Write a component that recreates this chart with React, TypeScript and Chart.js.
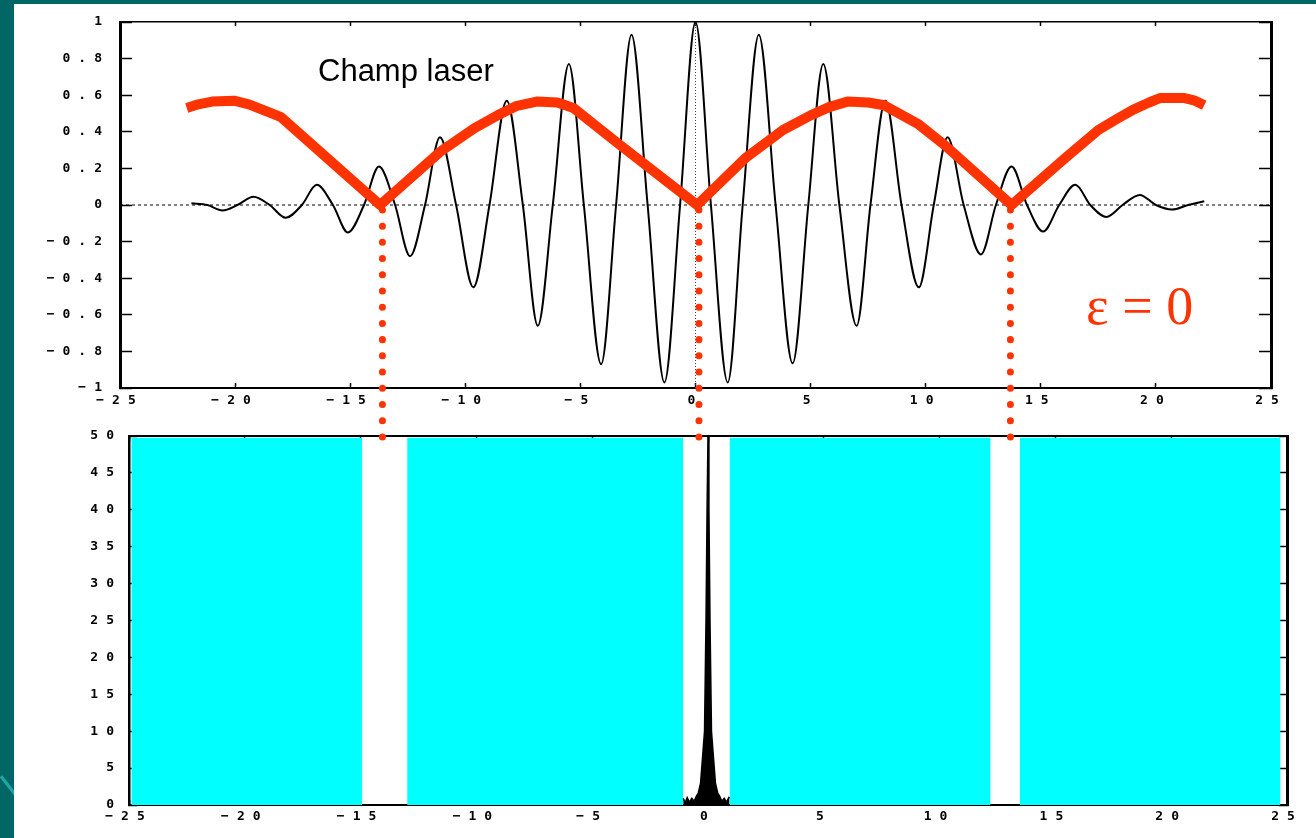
import React, { useEffect, useRef } from 'react';
import { Chart, registerables } from 'chart.js';

Chart.register(...registerables);

// ---------- Top chart data (laser field) ----------
const waveX = [
  -21.9, -21.2, -20.55, -19.9, -19.2, -18.5, -17.8, -17.1, -16.45, -15.75, -15.1, -14.4,
  -13.75, -13.05, -12.4, -11.75, -11.1, -10.4, -9.65, -8.95, -8.2, -7.5, -6.85, -6.2,
  -5.5, -4.85, -4.1, -3.45, -2.78, -2.08, -1.35, -0.67, 0, 0.67, 1.4, 2.05, 2.75, 3.48,
  4.22, 4.9, 5.55, 6.25, 7.0, 7.6, 8.25, 8.95, 9.7, 10.35, 10.95, 11.65, 12.4, 13.05,
  13.73, 14.4, 15.1, 15.8, 16.5, 17.15, 17.85, 18.55, 19.3, 20.0, 20.7, 21.4, 22.1,
];
const waveY = [
  0.01, 0, -0.03, 0, 0.045, 0, -0.07, 0, 0.11, 0, -0.15, 0,
  0.21, 0, -0.28, 0, 0.37, 0, -0.45, 0, 0.57, 0, -0.66, 0,
  0.77, 0, -0.87, 0, 0.93, 0, -0.97, 0, 1.0, 0, -0.97, 0, 0.93, 0,
  -0.865, 0, 0.77, 0, -0.66, 0, 0.57, 0, -0.45, 0, 0.37, 0, -0.27, 0,
  0.21, 0, -0.145, 0, 0.11, 0, -0.065, 0, 0.055, 0, -0.025, 0, 0.02,
];

const envX = [
  -22.1, -21.6, -21.0, -20.05, -19.4, -18.6, -18.0, -13.7, -11.1, -9.6, -8.6, -7.8, -6.9,
  -6.0, -5.3, -4.6, -3.3, 0.07, 2.2, 3.8, 5.0, 5.8, 6.6, 7.5, 8.2, 9.7, 10.8, 13.73,
  16.0, 17.5, 18.3, 19.0, 19.7, 20.2, 21.2, 21.7, 22.1,
];
const envY = [
  0.53, 0.55, 0.565, 0.57, 0.55, 0.51, 0.48, 0.0, 0.29, 0.42, 0.49, 0.54, 0.565,
  0.56, 0.53, 0.46, 0.33, 0.0, 0.26, 0.41, 0.49, 0.535, 0.565, 0.56, 0.545, 0.44, 0.33, 0.0,
  0.25, 0.41, 0.47, 0.52, 0.56, 0.585, 0.585, 0.57, 0.545,
];

// red dotted markers (x positions, y from / to)
const markerX = [-13.6, 0.15, 13.68];
const markerYFrom = -0.027;
const markerYTo = -1.272;

const topXTicks = { min: -25, max: 25, step: 5 };
const topYTicks = { min: -1, max: 1, step: 0.2 };

// ---------- Bottom chart data ----------
const cyanStart = [-24.9, -12.99, 0.93, 13.46];
const cyanEnd = [-14.93, -1.07, 12.2, 24.72];
const cyanTop = 49.75;

const spikeX = [
  -1.07, -0.98, -0.9, -0.8, -0.7, -0.6, -0.5, -0.42, -0.32, -0.15, -0.086, -0.04, 0,
  0.04, 0.086, 0.15, 0.32, 0.42, 0.5, 0.6, 0.7, 0.8, 0.9, 0.93,
];
const spikeY = [
  0.9, 0.3, 1.0, 0.4, 0.9, 0.5, 1.2, 1.6, 3, 10, 25, 40, 50,
  40, 25, 10, 3, 1.6, 1.2, 0.5, 0.9, 0.4, 1.0, 0.9,
];

const botXTicks = { min: -25, max: 25, step: 5 };
const botYTicks = { min: 0, max: 50, step: 5 };

// ---------- styles ----------
const RED = '#ff3300';
const CYAN = '#00ffff';
const TEAL = '#006666';
const tickFont = { family: '"DejaVu Sans Mono", monospace', size: 13, weight: 'bold' as const };

const fmt = (v: number) => {
  const r = Math.round(v * 10) / 10;
  if (r === 0) return '0';
  const a = Math.abs(r);
  const s = Number.isInteger(a) ? String(a) : a.toFixed(1);
  return (r < 0 ? '\u2212' : '') + s;
};

const spacingPlugin = {
  id: 'letterSpacing',
  beforeDraw(chart: any) {
    chart.ctx.letterSpacing = '8px';
  },
  afterDraw(chart: any) {
    chart.ctx.letterSpacing = '0px';
  },
};

function makeAxis(opts: {
  position: 'left' | 'right' | 'top' | 'bottom';
  range: { min: number; max: number; step: number };
  size: number;
  tickLength: number;
  labels: boolean;
  padding?: number;
  borderWidth?: number;
}) {
  const horizontal = opts.position === 'top' || opts.position === 'bottom';
  return {
    type: 'linear',
    axis: horizontal ? 'x' : 'y',
    position: opts.position,
    min: opts.range.min,
    max: opts.range.max,
    afterFit: (s: any) => {
      if (horizontal) s.height = opts.size;
      else s.width = opts.size;
      s.paddingTop = 0;
      s.paddingBottom = 0;
      s.paddingLeft = 0;
      s.paddingRight = 0;
    },
    grid: {
      drawOnChartArea: false,
      drawTicks: true,
      tickLength: opts.tickLength,
      tickColor: '#000',
      tickWidth: 1.5,
      color: '#000',
    },
    border: { display: true, color: '#000', width: opts.borderWidth ?? 2 },
    ticks: {
      display: opts.labels,
      stepSize: opts.range.step,
      autoSkip: false,
      maxRotation: 0,
      color: '#000',
      font: tickFont,
      padding: opts.padding ?? 0,
      callback: (v: any) => fmt(Number(v)),
    },
  };
}

function topConfig(): any {
  const wave = waveX.map((x, i) => ({ x, y: waveY[i] }));
  const env = envX.map((x, i) => ({ x, y: envY[i] }));
  const markers = markerX.map((x) => ({
    data: [
      { x, y: markerYFrom },
      { x, y: markerYTo },
    ],
    borderColor: RED,
    borderWidth: 7,
    borderDash: [0.01, 16.2],
    borderCapStyle: 'round',
    pointRadius: 0,
    clip: false,
    xAxisID: 'x',
    yAxisID: 'y',
  }));
  return {
    type: 'line',
    data: {
      datasets: [
        ...markers,
        {
          data: env,
          borderColor: RED,
          borderWidth: 10,
          borderJoinStyle: 'round',
          tension: 0,
          pointRadius: 0,
          xAxisID: 'x',
          yAxisID: 'y',
        },
        {
          data: wave,
          borderColor: '#000',
          borderWidth: 2,
          cubicInterpolationMode: 'monotone',
          pointRadius: 0,
          xAxisID: 'x',
          yAxisID: 'y',
        },
        {
          data: [
            { x: topXTicks.min, y: 0 },
            { x: topXTicks.max, y: 0 },
          ],
          borderColor: '#000',
          borderWidth: 1,
          borderDash: [3, 3],
          pointRadius: 0,
          xAxisID: 'x',
          yAxisID: 'y',
        },
        {
          data: [
            { x: 0, y: topYTicks.min },
            { x: 0, y: topYTicks.max },
          ],
          borderColor: '#444',
          borderWidth: 1,
          borderDash: [1, 2],
          pointRadius: 0,
          xAxisID: 'x',
          yAxisID: 'y',
        },
      ],
    },
    options: {
      responsive: false,
      animation: false,
      events: [],
      layout: { padding: 0 },
      plugins: { legend: { display: false }, tooltip: { enabled: false } },
      scales: {
        x: makeAxis({ position: 'bottom', range: topXTicks, size: 57, tickLength: -5, labels: true, padding: 10 }),
        xTop: makeAxis({ position: 'top', range: topXTicks, size: 22, tickLength: -4, labels: false, borderWidth: 1.5 }),
        y: makeAxis({ position: 'left', range: topYTicks, size: 120, tickLength: -12, labels: true, padding: 22, borderWidth: 3 }),
        yRight: makeAxis({ position: 'right', range: topYTicks, size: 45, tickLength: -12, labels: false, borderWidth: 3 }),
      },
    },
    plugins: [spacingPlugin],
  };
}

function botConfig(): any {
  const cyan = cyanStart.map((s, i) => ({
    data: [
      { x: s, y: cyanTop },
      { x: cyanEnd[i], y: cyanTop },
    ],
    borderWidth: 0,
    borderColor: CYAN,
    backgroundColor: CYAN,
    fill: 'origin',
    pointRadius: 0,
    xAxisID: 'x',
    yAxisID: 'y',
  }));
  return {
    type: 'line',
    data: {
      datasets: [
        {
          data: spikeX.map((x, i) => ({ x, y: spikeY[i] })),
          borderColor: '#000',
          borderWidth: 1.5,
          backgroundColor: '#000',
          fill: 'origin',
          pointRadius: 0,
          tension: 0,
          xAxisID: 'x',
          yAxisID: 'y',
        },
        ...cyan,
      ],
    },
    options: {
      responsive: false,
      animation: false,
      events: [],
      layout: { padding: 0 },
      plugins: { legend: { display: false }, tooltip: { enabled: false } },
      scales: {
        x: makeAxis({ position: 'bottom', range: botXTicks, size: 33, tickLength: -5, labels: true, padding: 9 }),
        xTop: makeAxis({ position: 'top', range: botXTicks, size: 26, tickLength: -5, labels: false }),
        y: makeAxis({ position: 'left', range: botYTicks, size: 129, tickLength: -8, labels: true, padding: 15, borderWidth: 2.5 }),
        yRight: makeAxis({ position: 'right', range: botYTicks, size: 29, tickLength: -8, labels: false, borderWidth: 3 }),
      },
    },
    plugins: [spacingPlugin],
  };
}

export default function App() {
  const topRef = useRef<HTMLCanvasElement>(null);
  const botRef = useRef<HTMLCanvasElement>(null);

  useEffect(() => {
    const top = new Chart(topRef.current as HTMLCanvasElement, topConfig());
    const bot = new Chart(botRef.current as HTMLCanvasElement, botConfig());
    return () => {
      top.destroy();
      bot.destroy();
    };
  }, []);

  return (
    <div
      style={{
        position: 'fixed',
        left: 0,
        top: 0,
        width: 1316,
        height: 838,
        background: TEAL,
        overflow: 'hidden',
      }}
    >
      <div
        style={{
          position: 'absolute',
          left: -4,
          top: 785,
          width: 26,
          height: 3,
          background: '#1fa7a3',
          transform: 'rotate(52deg)',
        }}
      />
      <div style={{ position: 'absolute', left: 14, top: 4, right: 0, bottom: 0, background: '#fff' }} />
      <canvas
        ref={botRef}
        width={1316}
        height={428}
        style={{ position: 'absolute', left: 0, top: 410, width: 1316, height: 428, zIndex: 1 }}
      />
      <canvas
        ref={topRef}
        width={1316}
        height={445}
        style={{ position: 'absolute', left: 0, top: 0, width: 1316, height: 445, zIndex: 2 }}
      />
      <div
        style={{
          position: 'absolute',
          left: 318,
          top: 55,
          fontFamily: '"Liberation Sans", Arial, sans-serif',
          fontSize: 31,
          lineHeight: 1,
          color: '#000',
          whiteSpace: 'nowrap',
          zIndex: 3,
        }}
      >
        Champ laser
      </div>
      <div
        style={{
          position: 'absolute',
          left: 1086,
          top: 279,
          fontFamily: '"Liberation Serif", "Times New Roman", serif',
          fontSize: 54,
          lineHeight: 1,
          color: RED,
          whiteSpace: 'nowrap',
          zIndex: 3,
        }}
      >
        ε = 0
      </div>
    </div>
  );
}
